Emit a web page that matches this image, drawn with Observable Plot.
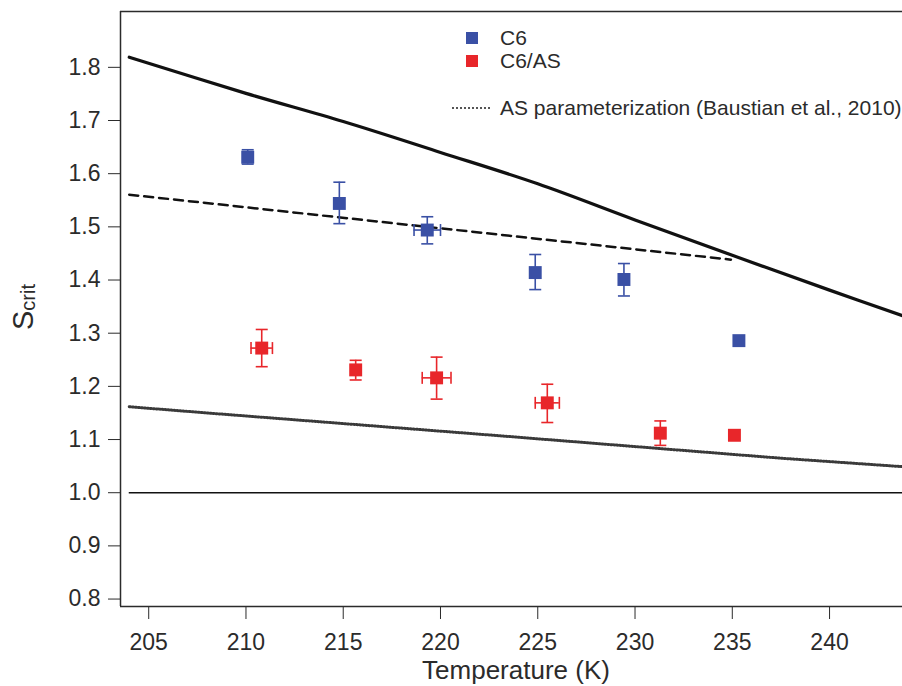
<!DOCTYPE html>
<html>
<head>
<meta charset="utf-8">
<script src="https://cdn.jsdelivr.net/npm/d3@7"></script>
<script src="https://cdn.jsdelivr.net/npm/@observablehq/plot@0.6"></script>
<style>
  html, body { margin: 0; padding: 0; background: #fff; }
  #chart { width: 902px; height: 686px; }
</style>
</head>
<body>
<div id="chart"></div>
<script>
// ---------- data ----------
const xTicks = [205, 210, 215, 220, 225, 230, 235, 240];
const yTicks = [0.8, 0.9, 1.0, 1.1, 1.2, 1.3, 1.4, 1.5, 1.6, 1.7, 1.8];
const xDomain = [203.55, 243.75];
const yDomain = [0.786, 1.905];

// C6 (blue)
const c6T   = [210.09, 214.80, 219.32, 224.87, 229.43, 235.34];
const c6S   = [1.631, 1.544, 1.494, 1.414, 1.401, 1.286];
const c6Lo  = [1.618, 1.506, 1.468, 1.382, 1.370, null];
const c6Hi  = [1.645, 1.584, 1.519, 1.448, 1.431, null];
const c6TEr = [0, 0, 0.68, 0, 0, 0];

// C6/AS (red)
const asT   = [210.81, 215.64, 219.80, 225.49, 231.30, 235.11];
const asS   = [1.272, 1.231, 1.216, 1.169, 1.112, 1.108];
const asLo  = [1.237, 1.212, 1.176, 1.132, 1.089, null];
const asHi  = [1.307, 1.249, 1.255, 1.204, 1.135, null];
const asTEr = [0.55, 0, 0.74, 0.62, 0, 0];

// solid curve
const solidT = [204.0, 210, 215, 220, 225, 230, 235, 240, 243.75];
const solidS = [1.819, 1.751, 1.698, 1.640, 1.581, 1.513, 1.4465, 1.381, 1.333];
// dashed line
const dashT = [204.0, 207.66, 234.93];
const dashS = [1.5605, 1.546, 1.4383];
// AS parameterization (Baustian et al., 2010), dotted
const asParT = [204.0, 207.65, 223.07, 237.46, 243.75];
const asParS = [1.1617, 1.151, 1.107, 1.065, 1.049];
// saturation = 1 reference
const refY = 1.0;
const refX = [204.0, 243.75];

const seriesNames = ["C6", "C6/AS"];
const colors = {"C6": "#3a50a5", "C6/AS": "#e8262a"};

// ---------- build tables ----------
function pts(name, T, S, lo, hi, te) {
  return T.map((t, i) => ({series: name, T: t, S: S[i], lo: lo[i], hi: hi[i], te: te[i]}));
}
const points = [...pts("C6", c6T, c6S, c6Lo, c6Hi, c6TEr), ...pts("C6/AS", asT, asS, asLo, asHi, asTEr)];
const vErr = points.filter(d => d.lo != null);
const vCaps = vErr.flatMap(d => [{...d, y: d.lo}, {...d, y: d.hi}]);
const hErr = points.filter(d => d.te > 0).map(d => ({...d, t1: d.T - d.te, t2: d.T + d.te}));
const hCaps = hErr.flatMap(d => [{...d, x: d.t1}, {...d, x: d.t2}]);

const toXY = (X, Y) => X.map((x, i) => ({T: x, S: Y[i]}));

const hline = {draw(ctx, size) { const w = Math.sqrt(size / Math.PI); ctx.moveTo(-w, 0); ctx.lineTo(w, 0); }};
const vline = {draw(ctx, size) { const w = Math.sqrt(size / Math.PI); ctx.moveTo(0, -w); ctx.lineTo(0, w); }};

const frameColor = "#2b2b2b";

const svg = Plot.plot({
  width: 902,
  height: 686,
  marginLeft: 120,
  marginRight: 0,
  marginTop: 11,
  marginBottom: 80,
  style: {
    fontFamily: "'Liberation Sans', Arial, Helvetica, sans-serif",
    fontSize: "23px",
    color: "#2b2b2b",
    background: "#fff",
    overflow: "visible"
  },
  x: {domain: xDomain, ticks: xTicks, tickSize: 13, tickPadding: 14, tickFormat: d => String(d), label: null},
  y: {domain: yDomain, ticks: yTicks, tickSize: 12, tickPadding: 8, tickFormat: d3.format(".1f"), label: null},
  marks: [
    // frame (left, top, bottom)
    Plot.ruleX([xDomain[0]], {stroke: frameColor, strokeWidth: 1.5}),
    Plot.ruleY([yDomain[0], yDomain[1]], {stroke: frameColor, strokeWidth: 1.5}),
    // reference line
    Plot.ruleY([refY], {x1: refX[0], x2: refX[1], stroke: "#111", strokeWidth: 1.5}),
    // model lines
    Plot.line(toXY(solidT, solidS), {x: "T", y: "S", stroke: "#111", strokeWidth: 3.2, curve: "catmull-rom"}),
    Plot.line(toXY(dashT, dashS), {x: "T", y: "S", stroke: "#111", strokeWidth: 2.5, strokeDasharray: "9,6"}),
    Plot.line(toXY(asParT, asParS), {x: "T", y: "S", stroke: "#3a3a3a", strokeWidth: 3, strokeDasharray: "1.2,1.8"}),
    // error bars
    Plot.ruleX(vErr, {x: "T", y1: "lo", y2: "hi", stroke: d => colors[d.series], strokeWidth: 1.6}),
    Plot.dot(vCaps, {x: "T", y: "y", symbol: hline, r: 6, fill: "none", stroke: d => colors[d.series], strokeWidth: 1.6}),
    Plot.ruleY(hErr, {y: "S", x1: "t1", x2: "t2", stroke: d => colors[d.series], strokeWidth: 1.6}),
    Plot.dot(hCaps, {x: "x", y: "S", symbol: vline, r: 6, fill: "none", stroke: d => colors[d.series], strokeWidth: 1.6}),
    // markers
    Plot.dot(points, {x: "T", y: "S", symbol: "square", r: 7.3, fill: d => colors[d.series], stroke: "none"})
  ]
});

document.getElementById("chart").appendChild(svg);

// ---------- titles & legend ----------
const s = d3.select(svg);
const font = "'Liberation Sans', Arial, Helvetica, sans-serif";

s.append("text")
  .attr("x", 516).attr("y", 679)
  .attr("text-anchor", "middle")
  .attr("font-family", font).attr("font-size", 26).attr("fill", "#2b2b2b")
  .text("Temperature (K)");

const yl = s.append("text")
  .attr("transform", "translate(33,307) rotate(-90)")
  .attr("text-anchor", "middle")
  .attr("font-family", font).attr("font-size", 29).attr("fill", "#2b2b2b");
yl.append("tspan").text("S");
yl.append("tspan").attr("font-size", 20).attr("dy", 2).text("crit");

const lg = s.append("g").attr("font-family", font).attr("font-size", 21).attr("fill", "#2b2b2b").attr("text-anchor", "start");
seriesNames.forEach((name, i) => {
  const cy = 38 + i * 23;
  lg.append("rect").attr("x", 466).attr("y", cy - 6).attr("width", 12).attr("height", 12).attr("fill", colors[name]);
  lg.append("text").attr("x", 500).attr("y", cy).attr("dy", "0.35em").attr("text-anchor", "start").text(name);
});
lg.append("line").attr("x1", 452).attr("x2", 490).attr("y1", 108).attr("y2", 108)
  .attr("stroke", "#555").attr("stroke-width", 2).attr("stroke-dasharray", "2,2");
lg.append("text").attr("x", 500).attr("y", 108).attr("dy", "0.35em").attr("text-anchor", "start").text("AS parameterization (Baustian et al., 2010)");
</script>
</body>
</html>
